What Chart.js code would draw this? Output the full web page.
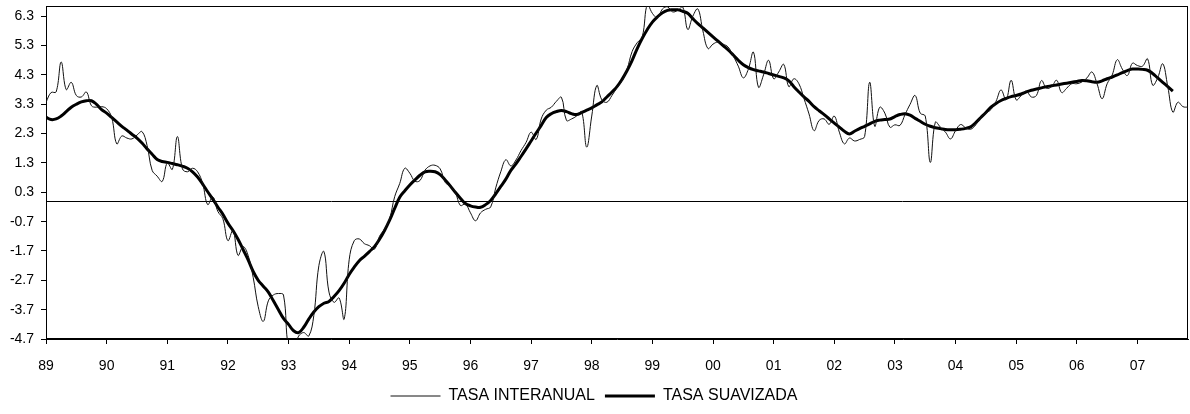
<!DOCTYPE html>
<html>
<head>
<meta charset="utf-8">
<script src="https://cdn.jsdelivr.net/npm/chart.js@4.4.1/dist/chart.umd.min.js"></script>
<style>
  html, body { margin: 0; padding: 0; background: #fff; }
  #wrap { width: 1190px; height: 414px; }
</style>
</head>
<body>
<div id="wrap"><canvas id="chart"></canvas></div>
<script>
// monthly series, Jan 1989 onwards
const yearLabels = ['89','90','91','92','93','94','95','96','97','98','99','00','01','02','03','04','05','06','07'];
const yTicks = [-4.7, -3.7, -2.7, -1.7, -0.7, 0.3, 1.3, 2.3, 3.3, 4.3, 5.3, 6.3];

const tasaInteranual = [
  3.37, 3.7, 3.72, 4.74, 3.8, 4.05, 3.6, 3.55, 3.72, 3.25, 3.2, 3.22,
  3.15, 2.85, 1.95, 2.22, 2.15, 2.12, 2.25, 2.37, 1.9, 1.05, 0.85, 0.67,
  1.3, 1.08, 2.2, 1.1, 1.0, 1.12, 1.0, 0.6, -0.12, 0.15, -0.35, -0.6,
  -1.35, -1.0, -1.85, -1.55, -1.85, -2.6, -3.6, -4.1, -3.4, -3.2, -3.15, -3.2,
  -5.0, -5.0, -4.6, -4.48, -4.6, -3.9, -2.2, -1.72, -3.1, -3.45, -3.3, -4.02,
  -2.0, -1.35, -1.29, -1.45, -1.52, -1.64, -1.2, -0.95, -0.6, 0.15, 0.6, 1.12,
  0.95, 0.68, 0.7, 1.05, 1.2, 1.22, 1.1, 0.64, 0.5, 0.3, -0.15, -0.1,
  -0.4, -0.67, -0.4, -0.28, -0.2, 0.45, 1.0, 1.41, 1.2, 1.4, 1.72, 2.0,
  2.35, 2.1, 2.8, 3.1, 3.2, 3.4, 3.54, 2.75, 2.8, 2.9, 3.05, 1.84,
  2.9, 3.94, 3.45, 3.37, 3.6, 3.86, 4.1, 4.5, 5.1, 5.4, 5.6, 6.7,
  6.4, 6.25, 6.55, 6.62, 6.45, 6.5, 6.62, 5.85, 6.3, 6.55, 5.8, 5.2,
  5.35, 5.42, 5.35, 5.25, 4.95, 4.6, 4.2, 4.5, 5.08, 3.88, 4.3, 4.8,
  4.17, 4.4, 4.66, 3.9, 4.17, 4.0, 3.5, 2.97, 2.4, 2.75, 2.8, 2.62,
  2.9, 2.35, 1.95, 2.15, 2.05, 2.1, 2.2, 4.05, 2.55, 3.2, 3.0, 2.52,
  2.6, 2.58, 2.95, 3.3, 3.6, 3.0, 2.9, 1.32, 2.69, 2.52, 2.35, 2.12,
  2.4, 2.61, 2.5, 2.45, 2.6, 2.86, 3.0, 3.12, 3.4, 3.79, 3.45, 4.12,
  3.45, 3.6, 3.75, 3.55, 3.6, 4.11, 3.85, 3.9, 4.12, 3.7, 3.85, 4.0,
  4.0, 4.06, 4.2, 4.4, 4.0, 3.49, 4.0, 4.3, 4.82, 4.5, 4.28, 4.7,
  4.62, 4.6, 4.85, 3.95, 4.2, 4.68, 3.9, 3.03, 3.37, 3.22, 3.2
];

const tasaSuavizada = [
  2.86, 2.78, 2.8, 2.9, 3.05, 3.2, 3.3, 3.38, 3.42, 3.42, 3.3, 3.12,
  3.0, 2.85, 2.7, 2.55, 2.42, 2.28, 2.15, 1.98, 1.78, 1.6, 1.42, 1.35,
  1.32, 1.28, 1.24, 1.19, 1.12, 1.0, 0.82, 0.58, 0.32, 0.07, -0.2, -0.45,
  -0.75, -1.0, -1.3, -1.65, -2.0, -2.4, -2.7, -2.9, -3.1, -3.4, -3.7, -4.0,
  -4.2, -4.42, -4.48, -4.3, -4.02, -3.78, -3.6, -3.48, -3.42, -3.25, -3.05, -2.8,
  -2.5, -2.25, -2.03, -1.88, -1.72, -1.55, -1.3, -1.0, -0.65, -0.25, 0.13, 0.35,
  0.55, 0.72, 0.88, 1.0, 1.02, 1.0, 0.9, 0.72, 0.52, 0.3, 0.1, -0.08,
  -0.16, -0.2, -0.21, -0.12, 0.02, 0.25, 0.5, 0.75, 1.05, 1.27, 1.52, 1.78,
  2.05, 2.32, 2.58, 2.85, 2.98, 3.05, 3.09, 3.05, 2.98, 2.95, 3.02, 3.1,
  3.18, 3.28, 3.38, 3.55, 3.72, 3.9, 4.15, 4.45, 4.8, 5.2, 5.55, 5.85,
  6.1, 6.28, 6.42, 6.5, 6.52, 6.52, 6.47, 6.4, 6.22, 6.05, 5.9, 5.75,
  5.6, 5.45, 5.3, 5.15, 4.98, 4.8, 4.65, 4.55, 4.48, 4.44, 4.4, 4.35,
  4.3, 4.25, 4.2, 4.1, 3.9, 3.72, 3.55, 3.4, 3.22, 3.08, 2.95, 2.8,
  2.66, 2.52, 2.38, 2.29, 2.38, 2.47, 2.55, 2.63, 2.72, 2.76, 2.78, 2.8,
  2.88, 2.95, 2.98, 2.93, 2.82, 2.72, 2.62, 2.55, 2.5, 2.47, 2.44, 2.43,
  2.43, 2.45, 2.48, 2.53, 2.68, 2.85, 3.02, 3.2, 3.33, 3.43, 3.5, 3.56,
  3.6, 3.65, 3.72, 3.78, 3.82, 3.86, 3.9, 3.93, 3.96, 3.99, 4.02, 4.05,
  4.08, 4.11, 4.1, 4.07, 4.05, 4.1, 4.17, 4.23, 4.3, 4.38, 4.45, 4.5,
  4.5, 4.49, 4.46, 4.35, 4.2, 4.05, 3.9, 3.75
];

const toPoints = (arr) => arr.map((v, i) => ({ x: i, y: v }));

// box round the plot and the zero line
const framePlugin = {
  id: 'frame',
  beforeDatasetsDraw(chart) {
    const { ctx, chartArea: a, scales } = chart;
    const y0 = Math.round(scales.y.getPixelForValue(0)) + 0.5;
    ctx.save();
    ctx.strokeStyle = '#000';
    ctx.lineWidth = 1;
    ctx.beginPath();
    ctx.moveTo(a.left, y0);
    ctx.lineTo(a.right, y0);
    ctx.stroke();
    ctx.strokeRect(Math.round(a.left) + 0.5, Math.round(a.top) + 0.5,
      Math.round(a.width) - 1, Math.round(a.height) - 1);
    ctx.restore();
  }
};

Chart.defaults.font.family = '"Liberation Sans", Arial, sans-serif';
Chart.defaults.color = '#000';

new Chart(document.getElementById('chart'), {
  type: 'line',
  data: {
    datasets: [
      {
        label: 'TASA INTERANUAL',
        data: toPoints(tasaInteranual),
        borderColor: '#111',
        borderWidth: 1,
        pointRadius: 0,
        tension: 0.4
      },
      {
        label: 'TASA SUAVIZADA',
        data: toPoints(tasaSuavizada),
        borderColor: '#000',
        borderWidth: 3,
        pointRadius: 0,
        tension: 0.4
      }
    ]
  },
  options: {
    responsive: true,
    maintainAspectRatio: false,
    animation: false,
    layout: { padding: { top: 6, right: 2, left: 0, bottom: 0 } },
    plugins: {
      tooltip: { enabled: false },
      legend: {
        position: 'bottom',
        labels: {
          usePointStyle: true,
          pointStyle: 'line',
          pointStyleWidth: 50,
          padding: 10,
          font: { size: 16 },
          color: '#000'
        }
      }
    },
    scales: {
      x: {
        type: 'linear',
        min: 0,
        max: 226,
        afterBuildTicks: (scale) => {
          scale.ticks = yearLabels.map((_, k) => ({ value: k * 12 }));
        },
        afterFit: (scale) => { scale.height = 39; },
        ticks: {
          autoSkip: false,
          maxRotation: 0,
          padding: 14,
          font: { size: 14 },
          callback: (v, i) => yearLabels[i]
        },
        grid: { drawOnChartArea: false, drawTicks: true, tickLength: 5, color: '#000' },
        border: { color: '#000', width: 1 }
      },
      y: {
        min: -4.7,
        max: 6.65,
        afterBuildTicks: (scale) => {
          scale.ticks = yTicks.map(v => ({ value: v }));
        },
        afterFit: (scale) => {
          scale.width = 46;
          scale.paddingTop = 0;
          scale.paddingBottom = 0;
        },
        ticks: {
          padding: 7,
          font: { size: 14 },
          callback: (v) => v.toFixed(1)
        },
        grid: { drawOnChartArea: false, drawTicks: true, tickLength: 5, color: '#000' },
        border: { color: '#000', width: 1 }
      }
    }
  },
  plugins: [framePlugin]
});
</script>
</body>
</html>
